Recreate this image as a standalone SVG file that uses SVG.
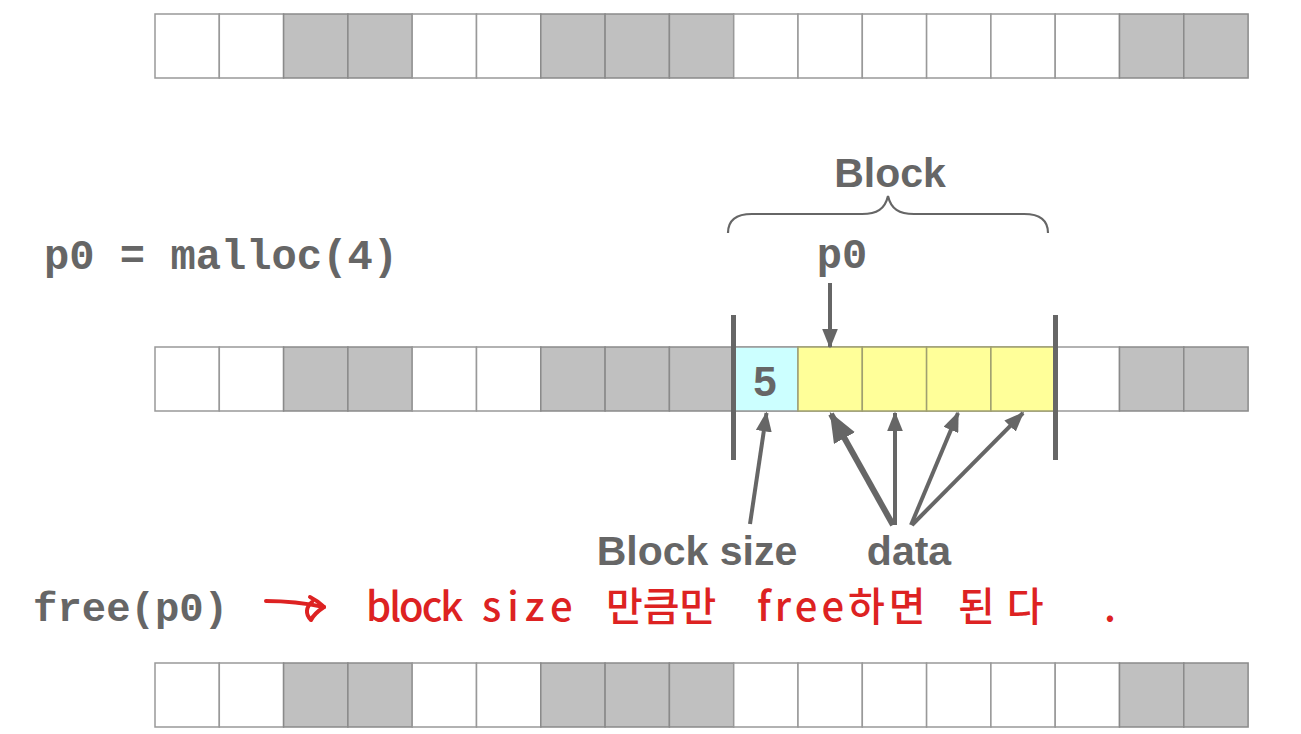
<svg xmlns="http://www.w3.org/2000/svg" width="1301" height="734" viewBox="0 0 1301 734">
<style>
.w{fill:#ffffff;stroke:#999999;stroke-width:1.5}
.g{fill:#c0c0c0;stroke:#8a8a8a;stroke-width:1.5}
.c{fill:#ccffff;stroke:#999999;stroke-width:1.5}
.y{fill:#ffff99;stroke:#a0a070;stroke-width:1.5}
.mono{font-family:"Liberation Mono","Courier New",monospace;font-weight:bold;fill:#666666}
.sans{font-family:"Liberation Sans",Arial,sans-serif;font-weight:bold;fill:#666666}
.bar{stroke:#666666;stroke-width:5}
.arr{stroke:#666666;fill:none;marker-end:url(#ah)}
.red{font-family:"Noto Sans CJK KR","Noto Sans",sans-serif;fill:#dd2222;font-size:40px;font-weight:500}
</style>
<defs>
<marker id="ah" viewBox="0 0 5 4" refX="4.6" refY="2" markerWidth="5" markerHeight="4" orient="auto" markerUnits="strokeWidth">
<path d="M0,0 L5,2 L0,4 Z" fill="#666666"/>
</marker>
<g id="baseRow">
<rect class="w" x="155" y="0" width="64.3" height="64"/>
<rect class="w" x="219.3" y="0" width="64.3" height="64"/>
<rect class="g" x="283.6" y="0" width="64.3" height="64"/>
<rect class="g" x="347.9" y="0" width="64.3" height="64"/>
<rect class="w" x="412.2" y="0" width="64.3" height="64"/>
<rect class="w" x="476.5" y="0" width="64.3" height="64"/>
<rect class="g" x="540.8" y="0" width="64.3" height="64"/>
<rect class="g" x="605.1" y="0" width="64.3" height="64"/>
<rect class="g" x="669.4" y="0" width="64.3" height="64"/>
<rect class="w" x="733.7" y="0" width="64.3" height="64"/>
<rect class="w" x="798" y="0" width="64.3" height="64"/>
<rect class="w" x="862.3" y="0" width="64.3" height="64"/>
<rect class="w" x="926.6" y="0" width="64.3" height="64"/>
<rect class="w" x="990.9" y="0" width="64.3" height="64"/>
<rect class="w" x="1055.2" y="0" width="64.3" height="64"/>
<rect class="g" x="1119.5" y="0" width="64.3" height="64"/>
<rect class="g" x="1183.8" y="0" width="64.3" height="64"/>
</g>
</defs>

<g id="row-top">
<use href="#baseRow" x="0" y="14"/>
</g>

<g id="label-malloc">
<text class="mono" x="44" y="269" font-size="42" textLength="354" lengthAdjust="spacingAndGlyphs">p0 = malloc(4)</text>
</g>

<g id="row-middle">
<use href="#baseRow" x="0" y="347"/>
<rect class="c" x="733.7" y="347" width="64.3" height="64"/>
<rect class="y" x="798" y="347" width="64.3" height="64"/>
<rect class="y" x="862.3" y="347" width="64.3" height="64"/>
<rect class="y" x="926.6" y="347" width="64.3" height="64"/>
<rect class="y" x="990.9" y="347" width="64.3" height="64"/>
<text class="sans" x="765" y="396" font-size="42" text-anchor="middle">5</text>
<line class="bar" x1="733.5" y1="315" x2="733.5" y2="460"/>
<line class="bar" x1="1055.5" y1="315" x2="1055.5" y2="460"/>
</g>

<g id="label-block">
<text class="sans" x="890" y="187" font-size="41" text-anchor="middle">Block</text>
<path d="M728,233 C728,220 737,214 752,214 L862,214 C877,214 885,209 888,196 C891,209 899,214 914,214 L1024,214 C1039,214 1048,220 1048,233" fill="none" stroke="#666666" stroke-width="2.2"/>
</g>

<g id="label-p0">
<text class="mono" x="842" y="268" font-size="42" text-anchor="middle">p0</text>
</g>

<g id="label-blocksize">
<text class="sans" x="697" y="565" font-size="41" text-anchor="middle">Block size</text>
</g>

<g id="label-data">
<text class="sans" x="909" y="565" font-size="41" text-anchor="middle">data</text>
</g>

<g id="connectors">
<line class="arr" x1="830" y1="283" x2="830" y2="347" stroke-width="4"/>
<line class="arr" x1="750" y1="524" x2="766.5" y2="413" stroke-width="4"/>
<line class="arr" x1="893" y1="525" x2="831" y2="414" stroke-width="6"/>
<line class="arr" x1="895" y1="525" x2="895" y2="413" stroke-width="4"/>
<line class="arr" x1="911" y1="525" x2="958" y2="413" stroke-width="4"/>
<line class="arr" x1="912" y1="525" x2="1023" y2="413" stroke-width="4"/>
</g>

<g id="label-free">
<text class="mono" x="33" y="621" font-size="40" textLength="195" lengthAdjust="spacingAndGlyphs">free(p0)</text>
</g>

<g id="annotation">
<path d="M266,601 C285,601 305,603 324,607" fill="none" stroke="#dd2222" stroke-width="4" stroke-linecap="round"/>
<path d="M310,597 C318,601 322,605 324,607 C318,611 313,616 311,620 C305,614 306,607 312,602" fill="none" stroke="#dd2222" stroke-width="4" stroke-linecap="round" stroke-linejoin="round"/>
<text class="red" x="366" y="621" letter-spacing="-2">block</text>
<text class="red" x="482" y="621" letter-spacing="6">size</text>
<text class="red" x="606" y="621">만큼만</text>
<text class="red" x="757" y="621" letter-spacing="4">free하면</text>
<text class="red" x="958" y="621" letter-spacing="12">된다</text>
<text class="red" x="1104" y="621">.</text>
</g>

<g id="row-bottom">
<use href="#baseRow" x="0" y="663"/>
</g>
</svg>
